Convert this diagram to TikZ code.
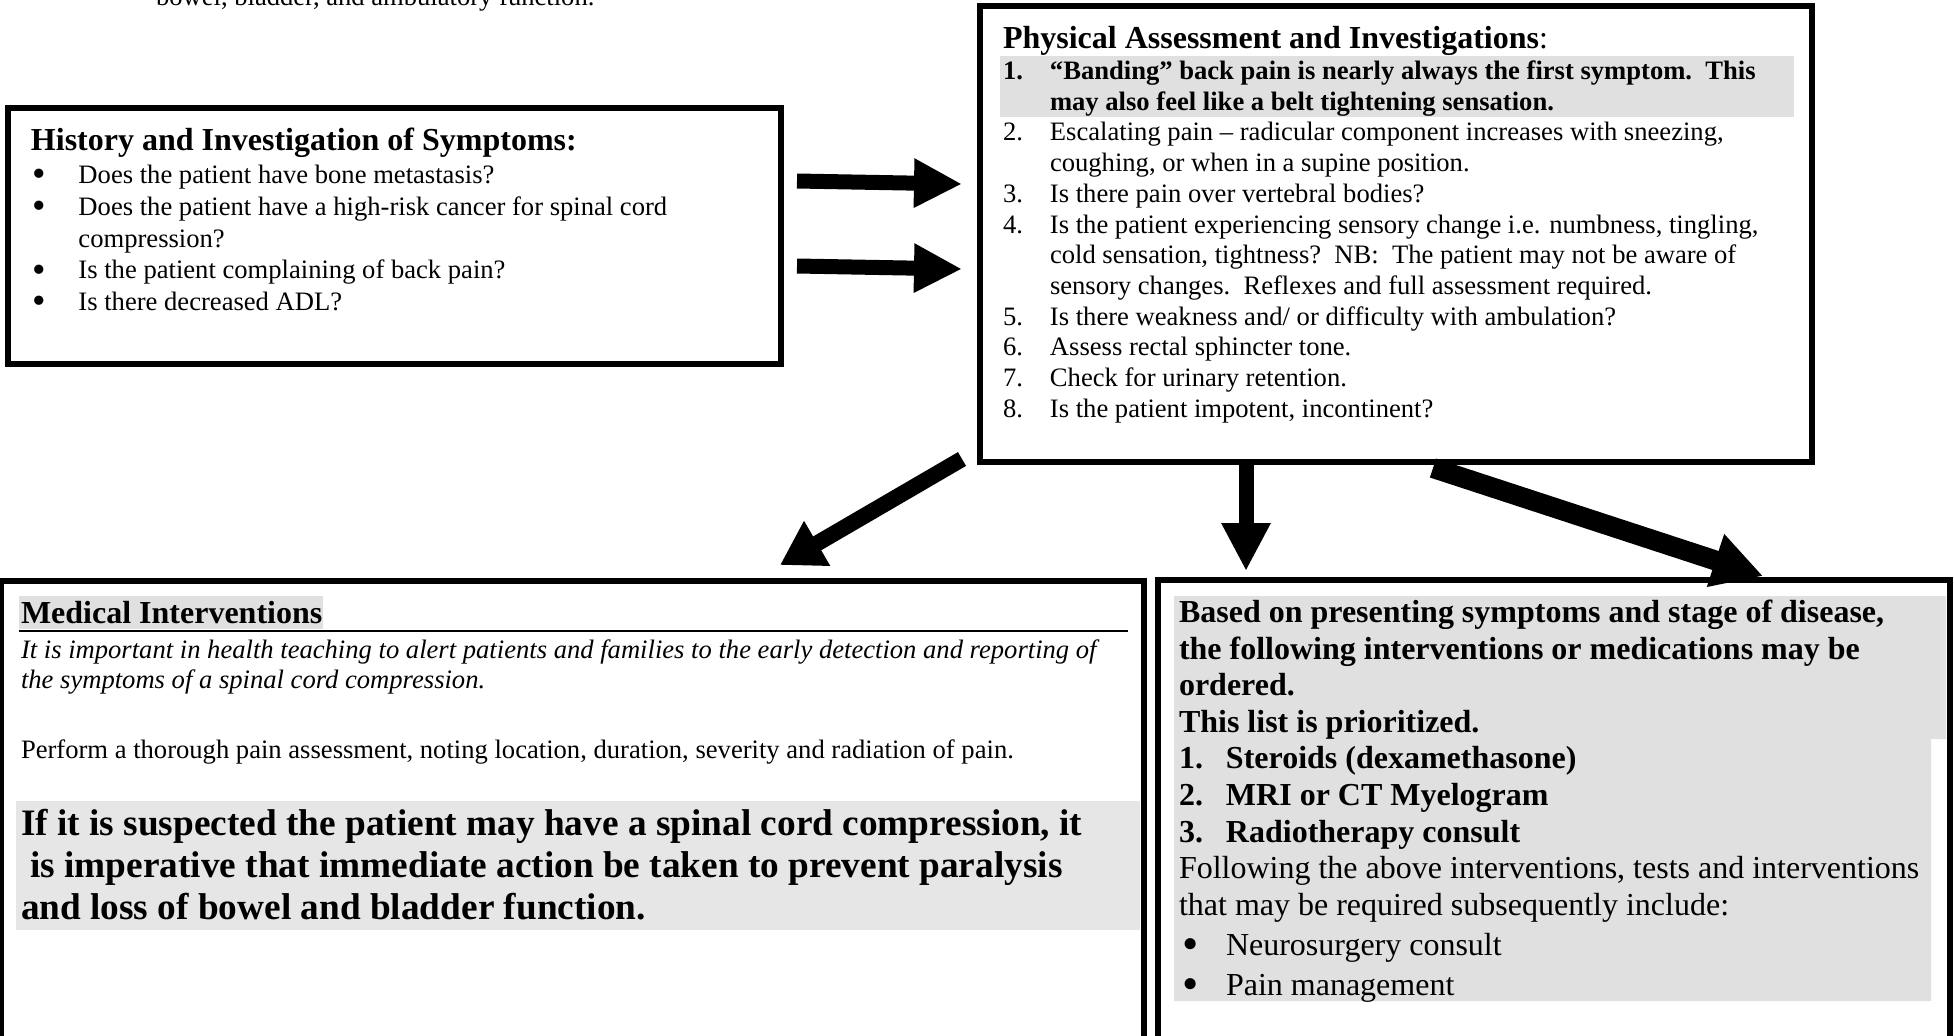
\documentclass[tikz,border=0pt]{standalone}
\usepackage{fontspec}
\setmainfont{Liberation Serif}
\usetikzlibrary{arrows.meta,fit}
\definecolor{hlgray}{RGB}{224,224,224}
\definecolor{hlgraylight}{RGB}{230,230,230}
% list markers with a fixed hanging indent
\newcommand{\bigdot}{\raisebox{-0.12em}{\scalebox{1.45}{•}}}
\newcommand{\numitem}[1]{\makebox[23.5pt][l]{#1}}
\newcommand{\hangpad}{\hspace*{23.5pt}}
\newcommand{\bulitem}{\makebox[23.75pt][l]{\hspace{1pt}\bigdot}}
\newcommand{\bulpadA}{\hspace*{23.75pt}}
\newcommand{\bulitemB}{\makebox[23.5pt][l]{\hspace{1.5pt}\bigdot}}
\tikzset{
  panel/.style={draw, line width=3.25pt, inner sep=0pt, outer sep=0pt},
  txt/.style={anchor=base west, inner sep=0pt, outer sep=0pt},
  blockarrow/.style={line width=7.5pt, -{Triangle[length=24pt,width=23pt]}},
  widearrow/.style={line width=10pt, -{Triangle[length=25pt,width=26pt]}},
}
\begin{document}
\begin{tikzpicture}[x=0.5pt,y=-0.5pt]
\useasboundingbox (0,0) rectangle (1954,1035);
\clip (0,0) rectangle (1954,1035);

% tail of a sentence from the text above
\node[txt, font=\fontsize{13.3}{15.9}\selectfont] (tail) at (156,5) {bowel, bladder, and ambulatory function.};

% ---------------- boxes ----------------
\node[panel, fit={(8,108) (781,364)}] (hist) {};
\node[panel, fit={(980,6) (1812,462)}] (phys) {};
\node[panel, fit={(1,581) (1144,1070)}] (med) {};
\node[panel, fit={(1158,580) (1950,1070)}] (orders) {};

% ---------------- history ----------------
\node[txt, font=\fontsize{16}{19}\selectfont\bfseries] (histtitle) at (31,150)
  {History and Investigation of Symptoms:};
\node[txt, font=\fontsize{13.3}{15.9}\selectfont] (histlist) at (31,183.5) {%
  \begin{tabular}[t]{@{}l@{}}
  \bulitem Does the patient have bone metastasis?\\
  \bulitem Does the patient have a high-risk cancer for spinal cord\\
  \bulpadA compression?\\
  \bulitem Is the patient complaining of back pain?\\
  \bulitem Is there decreased ADL?
  \end{tabular}};

% ---------------- physical assessment ----------------
\fill[hlgray] (1000,56) rectangle (1794,117);
\node[txt, font=\fontsize{16}{19}\selectfont] (phystitle) at (1003,48.5)
  {\textbf{Physical Assessment and Investigations}:};
\node[txt, font=\fontsize{13.3}{15.35}\selectfont] (physlist) at (1003,79.5) {%
  \begin{tabular}[t]{@{}l@{}}
  \textbf{\numitem{1.}“Banding” back pain is nearly always the first symptom.\ \ This}\\
  \textbf{\hangpad may also feel like a belt tightening sensation.}\\
  \numitem{2.}Escalating pain – radicular component increases with sneezing,\\
  \hangpad coughing, or when in a supine position.\\
  \numitem{3.}Is there pain over vertebral bodies?\\
  \numitem{4.}Is the patient experiencing sensory change i.e. numbness, tingling,\\
  \hangpad cold sensation, tightness?\ \ NB:\ \ The patient may not be aware of\\
  \hangpad sensory changes.\ \ Reflexes and full assessment required.\\
  \numitem{5.}Is there weakness and/ or difficulty with ambulation?\\
  \numitem{6.}Assess rectal sphincter tone.\\
  \numitem{7.}Check for urinary retention.\\
  \numitem{8.}Is the patient impotent, incontinent?
  \end{tabular}};

% ---------------- medical interventions ----------------
\fill[hlgray] (19,596) rectangle (323,629);
\node[txt, font=\fontsize{16}{19}\selectfont\bfseries] (medtitle) at (21,623.5) {Medical Interventions};
\coordinate (rulel) at (19,631);
\coordinate (ruler) at (1128,631);
\draw[line width=1.25pt] (rulel) -- (ruler);
\node[txt, font=\fontsize{13.3}{15}\selectfont\itshape] (medteach) at (21,658) {%
  \begin{tabular}[t]{@{}l@{}}
  It is important in health teaching to alert patients and families to the early detection and reporting of\\
  the symptoms of a spinal cord compression.
  \end{tabular}};
\node[txt, font=\fontsize{13.3}{15.9}\selectfont] (medpain) at (21,758)
  {Perform a thorough pain assessment, noting location, duration, severity and radiation of pain.};
\fill[hlgraylight] (16,801) rectangle (1140,930);
\node[txt, font=\fontsize{18.65}{21.2}\selectfont\bfseries] (medurgent) at (21,835) {%
  \begin{tabular}[t]{@{}l@{}}
  If it is suspected the patient may have a spinal cord compression, it\\
  \ is imperative that immediate action be taken to prevent paralysis\\
  and loss of bowel and bladder function.
  \end{tabular}};

% ---------------- ordered interventions ----------------
\fill[hlgray] (1174,596) -- (1946,596) -- (1946,739) -- (1931,739) -- (1931,1001) -- (1174,1001) -- cycle;
\node[txt, font=\fontsize{16}{18.3}\selectfont] (orderlist) at (1179,622.5) {%
  \begin{tabular}[t]{@{}l@{}}
  \textbf{Based on presenting symptoms and stage of disease,}\\
  \textbf{the following interventions or medications may be}\\
  \textbf{ordered.}\\
  \textbf{This list is prioritized.}\\
  \textbf{\numitem{1.}Steroids (dexamethasone)}\\
  \textbf{\numitem{2.}MRI or CT Myelogram}\\
  \textbf{\numitem{3.}Radiotherapy consult}\\
  Following the above interventions, tests and interventions\\
  that may be required subsequently include:\\[1.7pt]
  \bulitemB Neurosurgery consult\\[1.7pt]
  \bulitemB Pain management
  \end{tabular}};

% ---------------- arrows ----------------
\coordinate (h2pA) at (797,181);
\coordinate (h2pAe) at (962,184);
\coordinate (h2pB) at (797,266);
\coordinate (h2pBe) at (962,269);
\coordinate (p2m) at (962,459);
\coordinate (p2me) at (780,565);
\coordinate (p2c) at (1246,463);
\coordinate (p2ce) at (1246,571);
\coordinate (p2o) at (1433,468);
\coordinate (p2oe) at (1763,576);

\draw[blockarrow] (h2pA) -- (h2pAe);
\draw[blockarrow] (h2pB) -- (h2pBe);
\draw[line width=8pt, -{Triangle[length=21.5pt,width=24.5pt]}] (p2m) -- (p2me);
\draw[blockarrow] (p2c) -- (p2ce);
\draw[widearrow] (p2o) -- (p2oe);
\end{tikzpicture}
\end{document}
